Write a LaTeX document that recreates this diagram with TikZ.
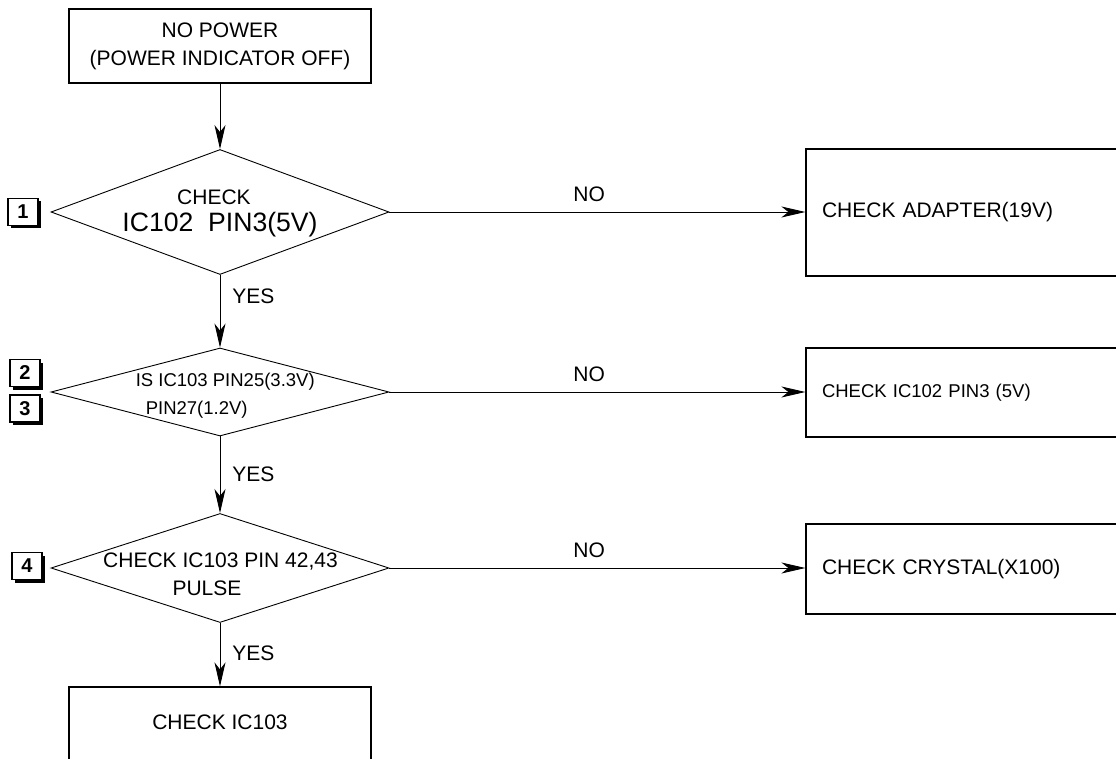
\documentclass[tikz,border=0pt]{standalone}
\usepackage{fontspec}
\setmainfont{Liberation Sans}
\usepackage{tikz}
\usetikzlibrary{arrows.meta,shapes.geometric,shadows,positioning}

\begin{document}
\begin{tikzpicture}[x=1pt,y=-1pt,->,>={Stealth[length=24pt,width=11pt,inset=7pt]},
   line width=0.9pt,
   every node/.style={font=\fontsize{21}{28}\selectfont},
   box/.style={draw, line width=1.2pt, inner sep=0pt},
   sidebox/.style={box, text width=292pt, inner xsep=16pt, align=left, minimum width=324pt},
   decision/.style={draw, diamond, inner sep=0pt, minimum width=338pt},
   small/.style={font=\fontsize{18.5}{24}\selectfont},
   stepno/.style={draw, line width=1.2pt, fill=white, inner sep=0pt,
      minimum width=30pt, minimum height=27pt, font=\fontsize{20}{20}\selectfont\bfseries,
      drop shadow={shadow xshift=3pt, shadow yshift=-3pt, fill=black, opacity=1}},
   yeslabel/.style={anchor=west, inner sep=0pt, xshift=12pt},
   nolabel/.style={anchor=south, inner sep=0pt, yshift=10pt}]
   \useasboundingbox (0,0) rectangle (1116,759);
   \node[box, minimum width=302pt, minimum height=74pt, align=center] (start) at (220,46) {NO POWER\\(POWER INDICATOR OFF)};
   \node[decision, minimum height=125pt] (d1) at (220,212) {};
   \node[anchor=base] (d1a) at (214,204.5) {CHECK};
   \node[anchor=base, font=\fontsize{26.6}{30}\selectfont] (d1b) at (220,231.5) {IC102\ \ PIN3(5V)};
   \node[decision, minimum height=88pt] (d2) at (220,392) {};
   \node[anchor=base west, small] (d2a) at (132,386.6) {IS IC103 PIN25(3.3V)};
   \node[anchor=base west, small] (d2b) at (142,414.6) {PIN27(1.2V)};
   \node[decision, minimum height=109pt] (d3) at (220,568) {};
   \node[anchor=base] (d3a) at (220.5,567.5) {CHECK IC103 PIN 42,43};
   \node[anchor=base] (d3b) at (207,595.5) {PULSE};
   \node[box, minimum width=302pt, minimum height=90pt, text depth=20pt] (end) at (220,732) {CHECK IC103};
   \node[sidebox, minimum height=127pt] (r1) at (968,212.5) {CHECK ADAPTER(19V)};
   \node[sidebox, minimum height=89pt, small] (r2) at (968,392.5) {CHECK IC102 PIN3 (5V)};
   \node[sidebox, minimum height=90pt] (r3) at (968,569) {CHECK CRYSTAL(X100)};
   \node[stepno] (n1) at (23,212) {1};
   \node[stepno] (n2) at (25,373) {2};
   \node[stepno] (n3) at (25,408.5) {3};
   \node[stepno] (n4) at (27,566) {4};
  \path (start) edge (d1);
  \path (d1) edge node[pos=0.29, yeslabel] {YES} (d2);
  \path (d2) edge node[pos=0.5, yeslabel] {YES} (d3);
  \path (d3) edge node[pos=0.47, yeslabel] {YES} (end);
  \path (d1.east) edge node[pos=0.48, nolabel] {NO} (d1.east -| r1.west);
  \path (d2.east) edge node[pos=0.48, nolabel] {NO} (d2.east -| r2.west);
  \path (d3.east) edge node[pos=0.48, nolabel] {NO} (d3.east -| r3.west);
\end{tikzpicture}
\end{document}
